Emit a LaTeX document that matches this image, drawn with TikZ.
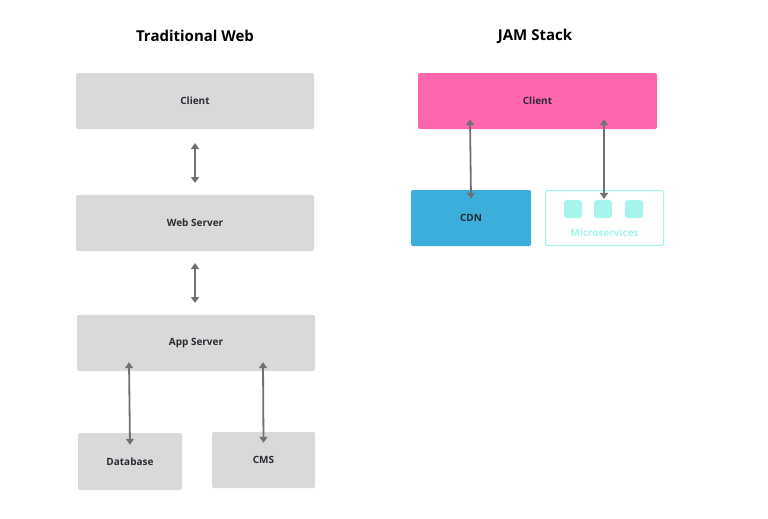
\documentclass[tikz,border=0pt]{standalone}
\usepackage{fontspec}
\setmainfont{Open Sans}
\usetikzlibrary{arrows.meta}
\definecolor{boxgray}{HTML}{D9D9D9}
\definecolor{jpink}{HTML}{FF66AD}
\definecolor{jblue}{HTML}{3BAEDC}
\definecolor{jcyan}{HTML}{A6F5EC}
\definecolor{txt}{HTML}{2B2B33}
\definecolor{arr}{HTML}{707075}
\begin{document}
\begin{tikzpicture}[x=1pt,y=-1pt,
  box/.style={rounded corners=2pt,inner sep=0pt,font=\bfseries\fontsize{10}{12}\selectfont,text=txt},
  link/.style={draw=arr,line width=1.8pt,{Triangle[width=8pt,length=6pt]}-{Triangle[width=8pt,length=6pt]}},
  title/.style={font=\bfseries\fontsize{15}{18}\selectfont,text=black}]
\useasboundingbox (0,0) rectangle (768,519);
\node[title] (t1) at (195,36) {Traditional Web};
\node[title] (t2) at (535,36) {JAM Stack};
\node[box,fill=boxgray,minimum width=238pt,minimum height=56pt] (c) at (195,101) {Client};
\node[box,fill=boxgray,minimum width=238pt,minimum height=56pt] (ws) at (195,223) {Web Server};
\node[box,fill=boxgray,minimum width=238pt,minimum height=56pt] (as) at (196,343) {App Server};
\node[box,fill=boxgray,minimum width=104pt,minimum height=57pt] (db) at (130,461.5) {Database};
\node[box,fill=boxgray,minimum width=103pt,minimum height=56pt] (cms) at (263.5,460) {CMS};
\coordinate (a1) at (195,143); \coordinate (a2) at (195,183);
\coordinate (b1) at (195,263); \coordinate (b2) at (195,303);
\draw[link] (a1) -- (a2);
\draw[link] (b1) -- (b2);
\draw[link] ([xshift=-67pt,yshift=9pt]as.south) -- ([xshift=-66pt,yshift=-12pt]db.north -| as.south);
\draw[link] ([xshift=67pt,yshift=9pt]as.south) -- ([yshift=-11pt]cms.north);
\node[box,fill=jpink,minimum width=239pt,minimum height=56pt] (jc) at (537.5,101) {Client};
\node[box,fill=jblue,minimum width=120pt,minimum height=56pt] (cdn) at (471,218) {CDN};
\node[box,draw=jcyan,line width=1.2pt,fill=white,minimum width=118pt,minimum height=55pt] (ms) at (604.5,218) {};
\foreach \i/\xx in {1/573,2/603,3/634}
  \node[fill=jcyan,rounded corners=3pt,minimum size=18pt,inner sep=0pt] (sq\i) at (\xx,209) {};
\node[font=\bfseries\fontsize{10}{12}\selectfont,text=jcyan] (mt) at (604.5,233) {Microservices};
\draw[link] ([xshift=-67.5pt,yshift=10pt]jc.south) -- ([yshift=-9pt]cdn.north);
\draw[link] ([xshift=66.5pt,yshift=10pt]jc.south) -- ([xshift=-0.5pt,yshift=-9pt]ms.north);
\end{tikzpicture}
\end{document}
